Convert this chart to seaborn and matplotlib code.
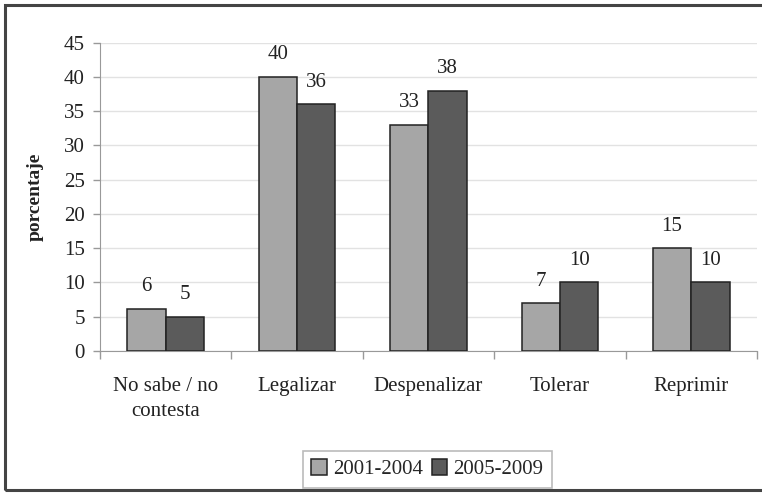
import matplotlib
matplotlib.use("Agg")
import matplotlib.pyplot as plt
import seaborn as sns
import pandas as pd
from matplotlib.patches import Rectangle

# Datos
categorias = ["No sabe / no\ncontesta", "Legalizar", "Despenalizar", "Tolerar", "Reprimir"]
periodos = ["2001-2004", "2005-2009"]
valores_2001_2004 = [6.2, 40, 33, 7, 15]
valores_2005_2009 = [5, 36, 38, 10, 10]
colores = ["#a6a6a6", "#5b5b5b"]

df = pd.DataFrame({
    "categoria": categorias * 2,
    "periodo": [periodos[0]] * len(categorias) + [periodos[1]] * len(categorias),
    "porcentaje": valores_2001_2004 + valores_2005_2009,
})

sns.set_style("white")
plt.rcParams["font.family"] = ["Liberation Serif", "DejaVu Serif"]

fig = plt.figure(figsize=(7.62, 4.94), dpi=100)
ax = fig.add_axes([0.1312, 0.2895, 0.8622, 0.6241])

sns.barplot(data=df, x="categoria", y="porcentaje", hue="periodo",
            palette=colores, width=0.584, edgecolor="#222222", linewidth=1.1,
            saturation=1, ax=ax, zorder=3)

for cont in ax.containers:
    ax.bar_label(cont, fmt="%.0f", padding=9, fontsize=15, color="#222222")

ax.set_ylim(0, 45)
ax.set_xlim(-0.5, len(categorias) - 0.5)
ax.set_yticks(range(0, 46, 5))
ax.tick_params(axis="y", labelsize=15, length=5, width=1, color="#999999",
               direction="out", pad=6, left=True, labelcolor="#222222")
ax.grid(axis="y", color="#e2e2e2", linewidth=1, zorder=0)
ax.set_axisbelow(True)

# ticks del eje x entre categorias
ax.set_xticks([i + 0.5 for i in range(-1, len(categorias))], minor=True)
ax.tick_params(axis="x", which="minor", length=6, width=1, color="#999999",
               direction="out", bottom=True)
ax.tick_params(axis="x", which="major", length=0, labelsize=15, pad=19,
               labelcolor="#222222")
for lbl in ax.get_xticklabels():
    lbl.set_linespacing(1.4)

for s in ["top", "right"]:
    ax.spines[s].set_visible(False)
ax.spines["left"].set_color("#999999")
ax.spines["bottom"].set_color("#999999")

ax.set_xlabel("")
ax.set_ylabel("porcentaje", fontsize=14, fontweight="bold", color="#222222")
ax.yaxis.set_label_coords(-0.085, 0.5)

ax.get_legend().remove()
handles, labels = ax.get_legend_handles_labels()
leg = fig.legend(handles, labels, loc="center", bbox_to_anchor=(0.561, 0.05),
                 ncol=2, fontsize=15, frameon=True, fancybox=False,
                 edgecolor="#aaaaaa", handlelength=0.75, handleheight=0.75,
                 handletextpad=0.3, columnspacing=0.4, borderpad=0.4)
leg.get_frame().set_linewidth(1.2)

# marco exterior
fig.patches.append(Rectangle((0.0066, 0.008), 1.2, 0.982, transform=fig.transFigure,
                             fill=False, edgecolor="#444444", linewidth=2.2))

fig.savefig("out.png", dpi=100)
